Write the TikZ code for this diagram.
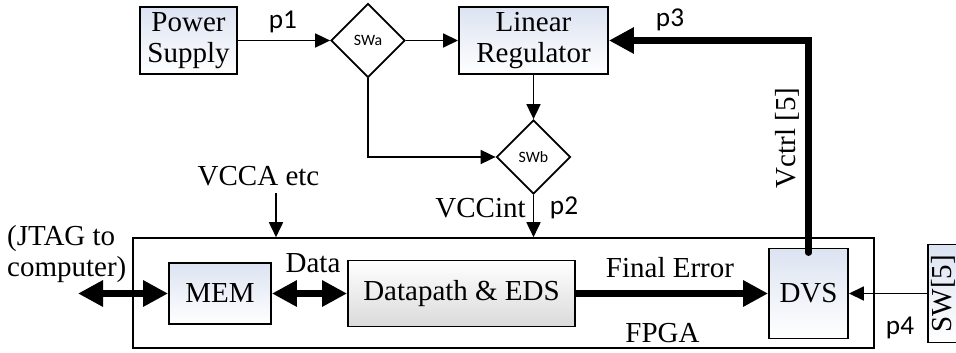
\documentclass[tikz,border=0pt]{standalone}
\usepackage{fontspec}
\setmainfont{Liberation Serif}
\newfontfamily\portfont{Carlito}
\usetikzlibrary{arrows.meta, positioning, calc, shapes.geometric}
\definecolor{boxblue}{HTML}{DCE3F1}
\definecolor{boxgray}{HTML}{DADADA}

\begin{document}
\begin{tikzpicture}[
  font=\fontsize{16.5}{17.5}\selectfont,
  blk/.style={draw, line width=1.1pt, top color=boxblue, bottom color=white, align=center, inner sep=0pt},
  grayblk/.style={blk, top color=white, bottom color=boxgray},
  swbox/.style={draw, diamond, line width=1pt, fill=white, inner sep=0pt,
    minimum width=1.48cm, minimum height=1.48cm, font=\portfont\fontsize{9}{10}\selectfont},
  port/.style={font=\portfont\fontsize{15.5}{16}\selectfont},
  wire/.style={line width=1pt, -{Triangle[length=3mm, width=2.8mm]}},
  bus/.style={line width=4pt, -{Triangle[length=5mm, width=5mm]}},
  bibus/.style={line width=4pt, {Triangle[length=5mm, width=5mm]}-{Triangle[length=5mm, width=5mm]}},
]

\useasboundingbox (0,0) rectangle (19.12,7.04);

% Supply side
\node[blk, minimum width=1.94cm, minimum height=1.34cm] (psu) at (3.77,6.23) {Power\\Supply};
\node[swbox] (swa) at (7.36,6.23) {SWa};
\node[blk, minimum width=2.98cm, minimum height=1.34cm] (lr) at (10.67,6.23) {Linear\\Regulator};
\node[swbox] (swb) at (10.67,3.9) {SWb};

% FPGA and its blocks
\node[draw, line width=0.9pt, minimum width=14.82cm, minimum height=2.2cm] (fpga) at (10.07,1.18) {};
\node[blk, minimum width=2.04cm, minimum height=1.22cm] (mem) at (4.4,1.17) {MEM};
\node[grayblk, minimum width=4.54cm, minimum height=1.32cm] (dp) at (9.23,1.17) {Datapath \& EDS};
\node[blk, minimum width=1.58cm, minimum height=1.8cm] (dvs) at (16.17,1.17) {DVS};

% external switch input
\node[blk, minimum width=0.6cm, minimum height=1.96cm] (swin) at (18.86,1.17) {};
\node[rotate=90] (swlabel) at (swin) {SW[5]};

% Labels
\node[port] (p1) at (5.66,6.6) {p1};
\node[port] (p2) at (11.28,2.88) {p2};
\node[port] (p3) at (13.4,6.64) {p3};
\node[port] (p4) at (18.0,0.48) {p4};
\node (vccint) at (9.61,2.88) {VCCint};
\node (vcca) at (5.17,3.52) {VCCA etc};
\node[anchor=west, align=left] (jtaglabel) at (0.02,1.96) {(JTAG to\\computer)};
\node (data) at (6.26,1.78) {Data};
\node (ferr) at (13.4,1.68) {Final Error};
\node[rotate=90] (vctrl) at (15.74,4.28) {Vctrl [5]};
\node (fpgalabel) at (13.25,0.38) {FPGA};

% Power path
\draw[wire] (psu.east) -- (swa.west);
\draw[wire] (swa.east) -- (lr.west);
\draw[wire] (lr.south) -- (swb.north);
\draw[wire] (swa.south) |- (swb.west);
\draw[wire] (swb.south) -- (swb.south |- fpga.north);
\coordinate (vccsrc) at (5.52,3.18);
\draw[wire] (vccsrc) -- (vccsrc |- fpga.north);

% Data and control
\coordinate (jtag) at (1.56,1.17);
\draw[bibus] (jtag) -- (mem.west);
\draw[bibus] (mem.east) -- (dp.west);
\draw[bus] (dp.east) -- (dvs.west);
\draw[bus, line width=3.5pt, line cap=round] ([yshift=-3pt]dvs.north) |- (lr.east);
\draw[wire] (swin.west) -- (dvs.east);

\end{tikzpicture}
\end{document}
